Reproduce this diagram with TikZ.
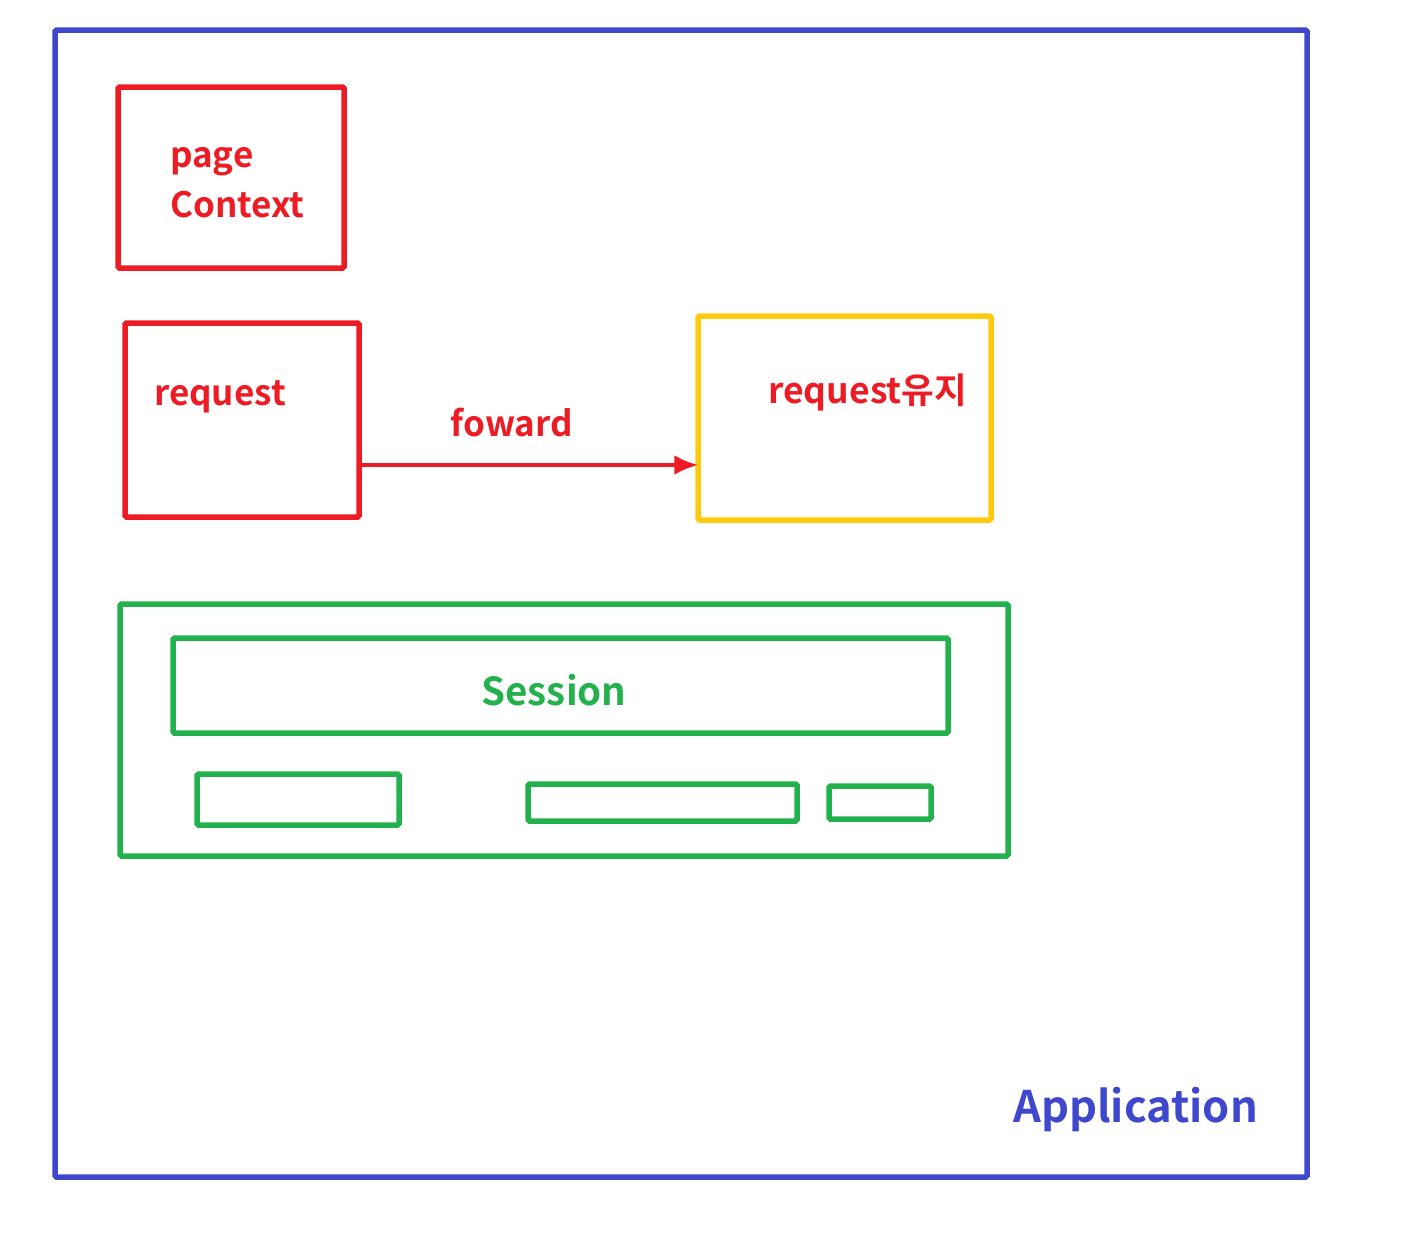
\documentclass[tikz,border=0pt]{standalone}
\usepackage{fontspec}
\setmainfont{Noto Sans CJK KR}[BoldFont={Noto Sans CJK KR Bold}]
\usetikzlibrary{fit,arrows.meta}
\definecolor{cblue}{HTML}{3F48CC}
\definecolor{cred}{HTML}{ED1C24}
\definecolor{cyellow}{HTML}{FFC90E}
\definecolor{cgreen}{HTML}{22B14C}
\tikzset{
  box/.style={draw=#1, line width=5.5pt, inner sep=0pt, rounded corners=1.5pt},
  lbl/.style={anchor=base west, inner sep=0pt, text=#1, font=\bfseries\fontsize{35}{40}\selectfont},
  biglbl/.style={anchor=base west, inner sep=0pt, text=#1, font=\bfseries\fontsize{43.5}{50}\selectfont},
}
\begin{document}
\begin{tikzpicture}[x=1pt,y=-1pt]
\useasboundingbox (0,0) rectangle (1424,1234);
% Application
\node[box=cblue, fit={(55,30)(1307,1177)}] (app) {};
\node[biglbl=cblue] (applbl) at (1013,1122) {Application};
% page context
\node[box=cred, fit={(118,87)(344,268)}] (pc) {};
\node[lbl=cred] (pclbl1) at (170,167) {page};
\node[lbl=cred] (pclbl2) at (170,217) {Context};
% request
\node[box=cred, fit={(125,323)(359,517)}] (req) {};
\node[lbl=cred] (reqlbl) at (154,405) {request};
% kept
\node[box=cyellow, fit={(698,316)(991,520)}] (keep) {};
\node[lbl=cred, font=\bfseries\fontsize{35.5}{40}\selectfont] (keeplbl) at (768,403) {request유지};
% forward arrow
\coordinate (ay) at (0,465);
\draw[cred, line width=4pt, shorten >=-3pt, -{Latex[length=24pt,width=20pt]}] (req.east |- ay) -- (keep.west |- ay) node[pos=0.45, above=26pt, text=cred, font=\bfseries\fontsize{35}{40}\selectfont, inner sep=0pt] (fwd) {foward};
% session
\node[box=cgreen, fit={(120,604)(1008,856)}] (sessout) {};
\node[box=cgreen, fit={(173,638)(948,733)}] (sess) {};
\node[anchor=base, inner sep=0pt, text=cgreen, font=\bfseries\fontsize{38.5}{44}\selectfont] (sesslbl) at (554,705) {Session};
\node[box=cgreen, fit={(197,774)(399,825)}] (s1) {};
\node[box=cgreen, fit={(528,784)(797,821)}] (s2) {};
\node[box=cgreen, fit={(829,786)(931,819)}] (s3) {};
\end{tikzpicture}
\end{document}
